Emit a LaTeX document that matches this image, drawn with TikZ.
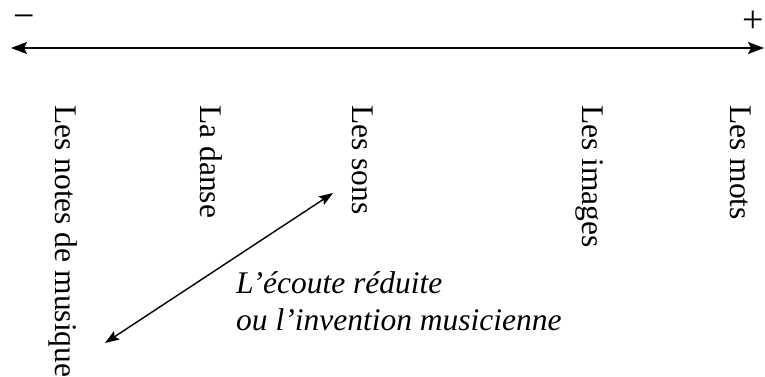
\documentclass[tikz,border=0pt]{standalone}
\usepackage{fontspec}
\setmainfont{Liberation Serif}
\usetikzlibrary{arrows.meta}
\begin{document}
\begin{tikzpicture}[x=1pt,y=1pt,
  lab/.style={inner sep=0pt, font=\fontsize{31.5}{37}\selectfont},
  sign/.style={inner sep=0pt, font=\fontsize{38}{42}\selectfont},
  vlab/.style={lab, rotate=-90, anchor=base west},
  ilab/.style={lab, anchor=base west, font=\fontsize{31.5}{37}\selectfont\itshape},
  axis/.style={line width=1.6pt, {Stealth[length=16pt,width=12pt,inset=3pt]}-{Stealth[length=16pt,width=12pt,inset=3pt]}},
  diag/.style={line width=1.4pt, {Stealth[length=14pt,width=10pt,inset=2.5pt]}-{Stealth[length=14pt,width=10pt,inset=2.5pt]}}]
\useasboundingbox (0,0) rectangle (765,-377);
\coordinate (L) at (11,-48);
\coordinate (R) at (764,-48);
\draw[axis] (L) -- (R);
\node[sign] (minus) at (24,-22) {−};
\node[sign] (plus) at (753.5,-22) {+};
\node[vlab] (notes) at (55,-105) {Les notes de musique};
\node[vlab] (danse) at (200,-105) {La danse};
\node[vlab] (sons) at (352,-105) {Les sons};
\node[vlab] (images) at (582,-105) {Les images};
\node[vlab] (mots) at (730,-105) {Les mots};
\node[ilab] (ecoute) at (236,-293) {L’écoute réduite};
\node[ilab] (invention) at (236,-330) {ou l’invention musicienne};
\coordinate (d1) at (105,-343);
\coordinate (d2) at (333,-193);
\draw[diag] (d1) -- (d2);
\end{tikzpicture}
\end{document}
